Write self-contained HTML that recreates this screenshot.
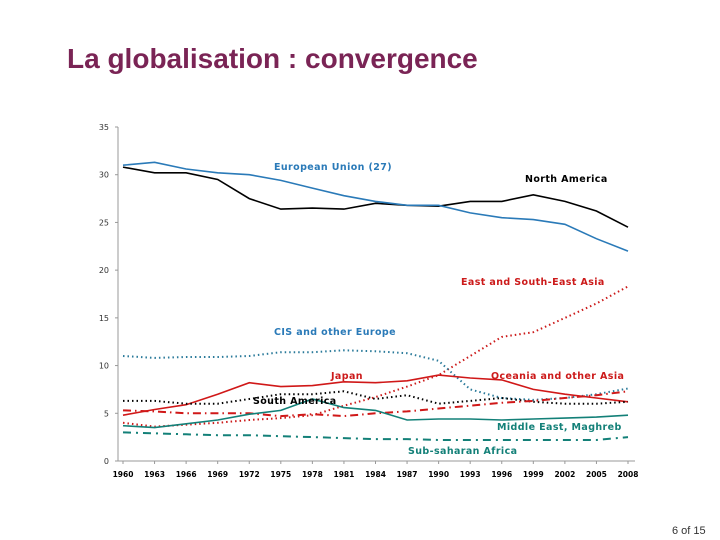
<!DOCTYPE html>
<html><head><meta charset="utf-8"><style>
body{margin:0;background:#fff;width:720px;height:540px;overflow:hidden;font-family:"Liberation Sans",sans-serif}
#title{position:absolute;left:67px;top:43px;font-size:28px;color:#7a2455;margin:0;font-weight:bold}
#pg{position:absolute;left:672px;top:525px;font-size:11px;color:#333}
svg{position:absolute;left:0;top:0}
</style></head><body>
<h1 id="title">La globalisation : convergence</h1>
<div id="pg">6 of 15</div>
<svg id="c" width="720" height="540"></svg>
<script>
const years=[1960,1963,1966,1969,1972,1975,1978,1981,1984,1987,1990,1993,1996,1999,2002,2005,2008];
const yTicks=[0,5,10,15,20,25,30,35];
const northAmerica=[30.8,30.2,30.2,29.5,27.5,26.4,26.5,26.4,27.0,26.8,26.7,27.2,27.2,27.9,27.2,26.2,24.5];
const europeanUnion=[31.0,31.3,30.6,30.2,30.0,29.4,28.6,27.8,27.2,26.8,26.8,26.0,25.5,25.3,24.8,23.3,22.0];
const eastAsia=[4.0,3.6,3.8,4.0,4.3,4.5,4.8,5.8,6.7,7.8,9.0,11.0,13.0,13.5,15.0,16.5,18.3];
const cisEurope=[11.0,10.8,10.9,10.9,11.0,11.4,11.4,11.6,11.5,11.3,10.5,7.5,6.6,6.4,6.6,7.0,7.6];
const japan=[4.8,5.4,5.9,7.0,8.2,7.8,7.9,8.3,8.2,8.4,9.0,8.7,8.5,7.5,7.0,6.6,6.2];
const southAmerica=[6.3,6.3,6.0,6.0,6.5,7.0,7.0,7.3,6.5,6.9,6.0,6.3,6.6,6.2,6.0,6.0,6.2];
const oceania=[5.3,5.2,5.0,5.0,5.0,4.7,4.9,4.7,5.0,5.2,5.5,5.8,6.1,6.3,6.6,6.9,7.3];
const middleEast=[3.7,3.5,3.9,4.3,4.9,5.3,6.5,5.6,5.3,4.3,4.4,4.4,4.3,4.4,4.5,4.6,4.8];
const subSaharan=[3.0,2.9,2.8,2.7,2.7,2.6,2.5,2.4,2.3,2.3,2.2,2.2,2.2,2.2,2.2,2.2,2.5];
const svg=document.getElementById('c');const NS='http://www.w3.org/2000/svg';
const X=y=>123+(y-1960)*(628-123)/48;const Y=v=>461-v*(461-127)/35;
function mk(t,a){const e=document.createElementNS(NS,t);for(const k in a)e.setAttribute(k,a[k]);svg.appendChild(e);return e;}
let ax=mk('path',{d:`M118 127V461H635`,stroke:'#999',fill:'none','stroke-width':1});


yTicks.forEach(t=>{const tx=mk('text',{x:109,y:Y(t)+3,'font-size':8,'text-anchor':'end',fill:'#333','font-family':'DejaVu Sans'});tx.textContent=t;


mk('line',{x1:115,x2:118,y1:Y(t),y2:Y(t),stroke:'#999'});});
years.forEach(y=>{const tx=mk('text',{x:X(y),y:477,'font-size':7.5,'text-anchor':'middle',fill:'#000','font-weight':'bold','font-family':'DejaVu Sans'});tx.textContent=y;


mk('line',{x1:X(y),x2:X(y),y1:461,y2:464,stroke:'#999'});});
function series(name,vals,col,dash){const d=vals.map((v,i)=>(i?'L':'M')+X(years[i]).toFixed(1)+' '+Y(v).toFixed(1)).join('');
const p=mk('path',{d,stroke:col,fill:'none','stroke-width':dash?2:1.6,'stroke-dasharray':dash||'none'});

}
series('line-north-america',northAmerica,'#000');
series('line-european-union',europeanUnion,'#2a7ab8');
series('line-east-asia',eastAsia,'#cc1a1a','1.5 3');
series('line-cis-europe',cisEurope,'#2a7a9a','1.5 3');
series('line-japan',japan,'#d01818');
series('line-south-america',southAmerica,'#000','1.5 3');
series('line-oceania',oceania,'#d01818','8 4 1.5 4');
series('line-middle-east',middleEast,'#138078');
series('line-sub-saharan',subSaharan,'#138078','8 5 2 5');
function lab(n,t,x,y,c){const e=mk('text',{x,y,'font-size':9.5,'font-weight':'bold',fill:c,'font-family':'DejaVu Sans','letter-spacing':0.4});e.textContent=t;

}
lab('label-eu','European Union (27)',274,170,'#2a7ab8');
lab('label-na','North America',525,182,'#000');
lab('label-east-asia','East and South-East Asia',461,285,'#cc1a1a');
lab('label-cis','CIS and other Europe',274,335,'#2a7ab8');
lab('label-japan','Japan',331,379,'#cc1a1a');
lab('label-oceania','Oceania and other Asia',491,379,'#cc1a1a');
lab('label-south-america','South America',253,404,'#000');
lab('label-middle-east','Middle East, Maghreb',497,430,'#138078');
lab('label-sub-saharan','Sub-saharan Africa',408,454,'#138078');
</script></body></html>
